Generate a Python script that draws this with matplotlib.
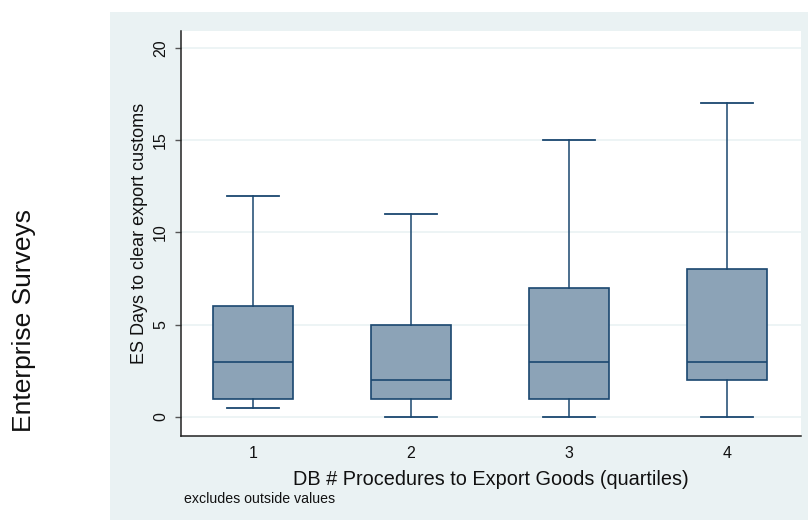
#!/usr/bin/env python3
from matplotlib import pyplot as plt
from matplotlib.patches import Rectangle

plt.rcParams['font.family'] = ['Liberation Sans', 'DejaVu Sans']

# kwartielen van aantal procedures (DB) tegen dagen douane (ES)
quartiles = [1, 2, 3, 4]
whisker_low = [0.5, 0, 0, 0]
box_q1 = [1, 1, 1, 2]
box_median = [3, 2, 3, 3]
box_q3 = [6, 5, 7, 8]
whisker_high = [12, 11, 15, 17]
yticks = [0, 5, 10, 15, 20]

navy = '#1a476f'
fill = '#8ca3b7'
achtergrond = '#eaf2f3'

fig = plt.figure(figsize=(8.08, 5.2), dpi=100)
fig.patches.append(Rectangle((110/808, 0), 1 - 110/808, 1 - 12/520,
                             transform=fig.transFigure, facecolor=achtergrond,
                             edgecolor='none', zorder=-10))

ax = fig.add_axes([181/808, 84/520, 620/808, 405/520])
ax.set_facecolor('white')

stats = []
for i in range(len(quartiles)):
    stats.append({
        'label': str(quartiles[i]),
        'whislo': whisker_low[i],
        'q1': box_q1[i],
        'med': box_median[i],
        'q3': box_q3[i],
        'whishi': whisker_high[i],
        'fliers': [],
    })

ax.bxp(stats, positions=quartiles, widths=0.505, patch_artist=True,
       showfliers=False,
       boxprops=dict(facecolor=fill, edgecolor=navy, linewidth=1.2),
       medianprops=dict(color=navy, linewidth=1.2),
       whiskerprops=dict(color=navy, linewidth=1.1),
       capprops=dict(color=navy, linewidth=1.3),
       capwidths=0.33)

ax.set_xlim(0.544, 4.468)
ax.set_ylim(-1.03, 20.92)
ax.set_yticks(yticks)
ax.set_yticklabels([str(t) for t in yticks], rotation=90, va='center')
ax.grid(axis='y', color=achtergrond, linewidth=1.2)
ax.set_axisbelow(True)

for side in ['top', 'right']:
    ax.spines[side].set_visible(False)
for side in ['left', 'bottom']:
    ax.spines[side].set_color('#222222')
    ax.spines[side].set_linewidth(1.1)

ax.tick_params(axis='y', length=4.3, width=1, color='#555555', pad=5,
               labelsize=11.5, labelcolor='#111111')
ax.tick_params(axis='x', length=0, pad=7, labelsize=11.5, labelcolor='#111111')

ax.set_ylabel('ES Days to clear export customs', fontsize=13,
              color='#111111', labelpad=3.5)
ax.set_xlabel('DB # Procedures to Export Goods (quartiles)', fontsize=14.3,
              color='#111111', labelpad=7)

fig.text(184/808, 1 - 499/520, 'excludes outside values', fontsize=10.2,
         color='#111111', ha='left', va='center')

fig.text(24/808, 1 - 321/520, 'Enterprise Surveys', fontsize=19,
         rotation=90, ha='center', va='center', color='#111111')

plt.savefig('out.png', dpi=100)
